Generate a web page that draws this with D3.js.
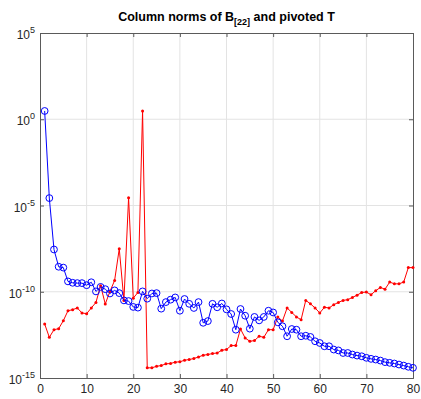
<!DOCTYPE html>
<meta charset="utf-8">
<style>
    body { margin: 0; background: #fff; }
    text { font-family: "Liberation Sans", Arial, sans-serif; }
    .grid line { stroke: #e3e3e3; stroke-width: 1px; }
    .axis path, .axis line { stroke: #5a5a5a; }
    .axis text { fill: #262626; font-size: 12px; }
</style>
<svg width="421" height="399"></svg>
<script src="https://cdn.jsdelivr.net/npm/d3@7/dist/d3.min.js"></script>
<script>
    // exponents (log10)
    var normsB = [0.48, -4.57, -7.55, -8.55, -8.6, -9.4, -9.48, -9.5, -9.5, -9.62,
        -9.45, -9.98, -9.72, -9.85, -10.1, -9.92, -10.08, -10.5, -10.54, -10.88,
        -10.92, -9.98, -10.4, -10.1, -10.08, -10.98, -10.6, -10.46, -10.33, -11.1,
        -10.42, -10.7, -10.94, -10.6, -11.8, -11.7, -10.7, -10.9, -10.68, -11.02,
        -11.29, -12.2, -11.0, -11.39, -12.14, -11.46, -11.66, -11.46, -11.1, -11.2,
        -11.77, -12.0, -12.58, -12.16, -12.2, -12.58, -12.55, -12.62, -12.87, -12.97,
        -13.16, -13.16, -13.35, -13.4, -13.55, -13.55, -13.64, -13.7, -13.74, -13.83,
        -13.89, -13.93, -13.99, -14.08, -14.12, -14.16, -14.22, -14.28, -14.35, -14.41];
    var normsT = [-11.87, -12.64, -12.2, -12.14, -11.68, -11.1, -11.04, -10.94, -11.23, -11.27,
        -10.94, -10.62, -9.65, -10.71, -9.98, -9.35, -7.51, -10.5, -4.55, -10.37,
        -10.04, 0.48, -14.41, -14.41, -14.32, -14.28, -14.18, -14.16, -14.08, -14.06,
        -13.97, -13.93, -13.87, -13.78, -13.68, -13.64, -13.58, -13.55, -13.39, -13.35,
        -13.12, -13.12, -12.16, -12.68, -12.87, -12.83, -12.58, -12.64, -12.2, -12.2,
        -11.46, -11.7, -10.94, -11.2, -11.46, -11.62, -10.5, -10.7, -10.94, -11.23,
        -10.9, -10.94, -10.75, -10.62, -10.5, -10.46, -10.33, -10.2, -10.04, -10.02,
        -10.17, -9.94, -9.75, -9.85, -9.44, -9.54, -9.54, -9.44, -8.6, -8.6];
    var xTicks = [0, 10, 20, 30, 40, 50, 60, 70, 80];
    var yExps = [5, 0, -5, -10, -15];

    (function () {
        var svg = d3.select("svg"),
            left = 40, right = 413, top = 33, bottom = 378,
            x = d3.scaleLinear().domain([0, 80]).range([left, right]),
            y = d3.scaleLog().domain([1e-15, 1e5]).range([bottom, top]);

        var b = normsB.map(function (e, i) { return [i + 1, Math.pow(10, e)]; }),
            t = normsT.map(function (e, i) { return [i + 1, Math.pow(10, e)]; });

        // grid
        var grid = svg.append("g").attr("class", "grid");
        grid.selectAll(".gx").data(xTicks.slice(1, -1)).enter().append("line")
            .attr("x1", function (d) { return x(d); }).attr("x2", function (d) { return x(d); })
            .attr("y1", top).attr("y2", bottom);
        grid.selectAll(".gy").data(yExps.slice(1, -1)).enter().append("line")
            .attr("y1", function (d) { return y(Math.pow(10, d)); })
            .attr("y2", function (d) { return y(Math.pow(10, d)); })
            .attr("x1", left).attr("x2", right);

        // axes
        var xAxis = d3.axisBottom(x).tickValues(xTicks).tickSize(-4).tickPadding(6);
        var yAxis = d3.axisLeft(y).tickValues(yExps.map(function (d) { return Math.pow(10, d); }))
            .tickSize(-4).tickPadding(5).tickFormat("");
        svg.append("g").attr("class", "axis")
            .attr("transform", "translate(0," + bottom + ")").call(xAxis);
        svg.append("g").attr("class", "axis")
            .attr("transform", "translate(" + left + ",0)").call(yAxis);
        svg.append("g").attr("class", "axis")
            .attr("transform", "translate(0," + top + ")")
            .call(d3.axisTop(x).tickValues(xTicks).tickSize(-4).tickFormat(""));
        svg.append("g").attr("class", "axis")
            .attr("transform", "translate(" + right + ",0)")
            .call(d3.axisRight(y).tickValues(yExps.map(function (d) { return Math.pow(10, d); }))
                .tickSize(-4).tickFormat(""));

        // y tick labels as 10^n
        var yl = svg.append("g").selectAll("text").data(yExps).enter().append("text")
            .attr("x", left - 5)
            .attr("y", function (d) { return y(Math.pow(10, d)) + 6; })
            .attr("text-anchor", "end")
            .style("font-size", "12px").style("fill", "#262626");
        yl.append("tspan").text("10");
        yl.append("tspan").attr("dy", -6).style("font-size", "9px").text(function (d) { return d; });

        var line = d3.line()
            .x(function (d) { return x(d[0]); })
            .y(function (d) { return y(d[1]); });

        // pivoted T (red)
        svg.append("path").datum(t)
            .attr("d", line).attr("fill", "none")
            .attr("stroke", "#ff0000").attr("stroke-width", 1);
        svg.append("g").selectAll("circle").data(t).enter().append("circle")
            .attr("cx", function (d) { return x(d[0]); })
            .attr("cy", function (d) { return y(d[1]); })
            .attr("r", 1.5).attr("fill", "#ff0000");

        // B22 (blue)
        svg.append("path").datum(b)
            .attr("d", line).attr("fill", "none")
            .attr("stroke", "#0000ff").attr("stroke-width", 1);
        svg.append("g").selectAll("circle").data(b).enter().append("circle")
            .attr("cx", function (d) { return x(d[0]); })
            .attr("cy", function (d) { return y(d[1]); })
            .attr("r", 3.4).attr("fill", "none")
            .attr("stroke", "#0000ff").attr("stroke-width", 1);

        // title
        var title = svg.append("text")
            .attr("x", (left + right) / 2).attr("y", 21)
            .attr("text-anchor", "middle")
            .style("font-size", "12.5px").style("font-weight", "bold").style("fill", "#000");
        title.append("tspan").text("Column norms of B");
        title.append("tspan").attr("dy", 4).style("font-size", "9px").text("[22]");
        title.append("tspan").attr("dy", -4).text(" and pivoted T");
    })();
</script>
